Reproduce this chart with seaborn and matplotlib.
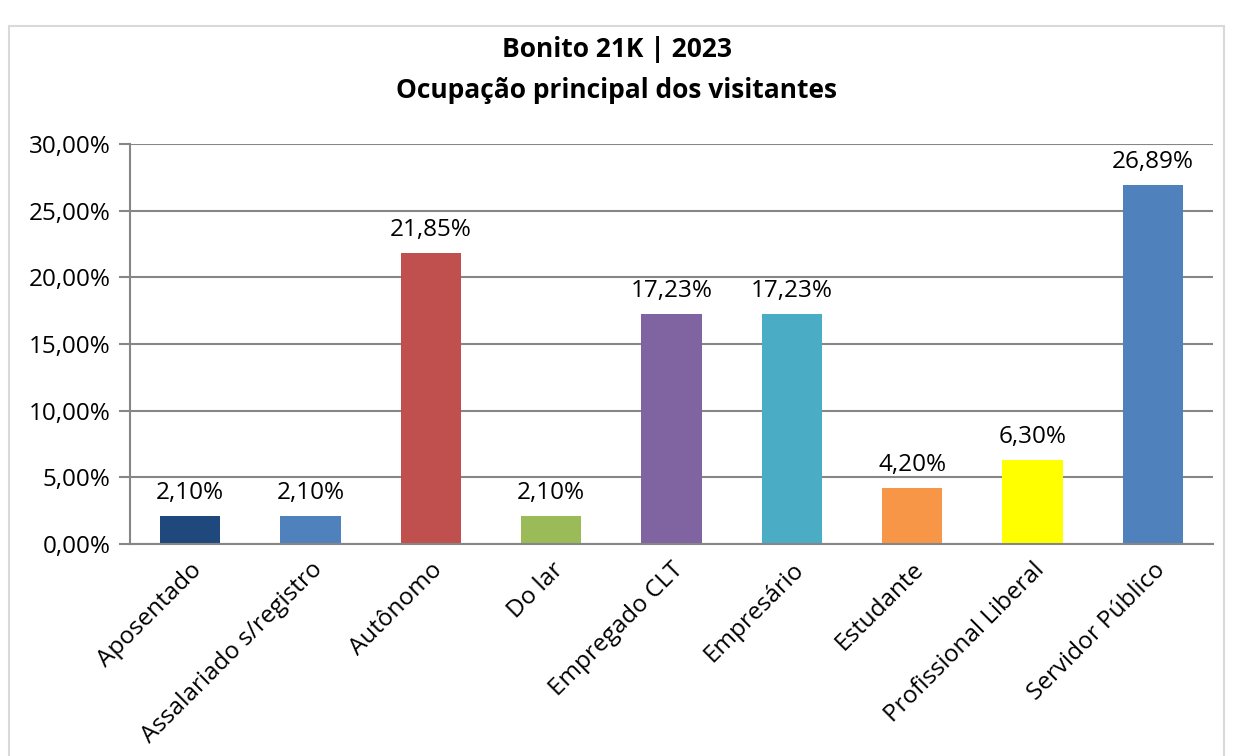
import matplotlib
matplotlib.use("Agg")
import matplotlib.pyplot as plt
import seaborn as sns
import pandas as pd
from matplotlib.patches import Rectangle
from matplotlib.ticker import FuncFormatter, MultipleLocator

# Data
categorias = ["Aposentado", "Assalariado s/registro", "Autônomo", "Do lar",
              "Empregado CLT", "Empresário", "Estudante",
              "Profissional Liberal", "Servidor Público"]
percentuais = [2.10, 2.10, 21.85, 2.10, 17.23, 17.23, 4.20, 6.30, 26.89]
cores = ["#1F497D", "#4F81BD", "#C0504D", "#9BBB59", "#8064A2",
         "#4BACC6", "#F79646", "#FFFF00", "#4F81BD"]

titulo = "Bonito 21K | 2023\nOcupação principal dos visitantes"


def fmt_pct(v, pos=None):
    return f"{v:.2f}%".replace(".", ",")


def main():
    sns.set_style("white")
    plt.rcParams['font.family'] = ['Open Sans', 'DejaVu Sans']
    plt.rcParams['text.color'] = 'black'
    plt.rcParams['xtick.color'] = 'black'
    plt.rcParams['ytick.color'] = 'black'

    df = pd.DataFrame({"categoria": categorias, "valor": percentuais})

    fig = plt.figure(figsize=(12.33, 7.56), dpi=100)
    ax = fig.add_axes([0.1054, 0.2804, 0.8784, 0.5291])

    sns.barplot(data=df, x="categoria", y="valor", hue="categoria",
                palette=cores, width=0.5, legend=False, ax=ax,
                saturation=1, linewidth=0)

    # value labels
    for cont in ax.containers:
        ax.bar_label(cont, labels=[fmt_pct(b.get_height()) for b in cont],
                     padding=8, fontsize=17.5, color="black")

    ax.set_ylim(0, 30)
    ax.set_xlim(-0.5, len(categorias) - 0.5)
    ax.yaxis.set_major_locator(MultipleLocator(5))
    ax.yaxis.set_major_formatter(FuncFormatter(fmt_pct))
    ax.grid(axis="y", color="#868686", linewidth=1.5)
    ax.set_axisbelow(True)

    for side in ["top", "right"]:
        ax.spines[side].set_visible(False)
    for side in ["left", "bottom"]:
        ax.spines[side].set_color("#868686")
        ax.spines[side].set_linewidth(1.5)

    # category labels centred, ticks at boundaries
    ax.set_xticks(range(len(categorias)))
    ax.set_xticklabels(categorias, rotation=45, ha="right",
                       rotation_mode="anchor", fontsize=17.5)
    ax.tick_params(axis="x", which="major", length=0, pad=10)
    ax.set_xticks([i - 0.5 for i in range(len(categorias) + 1)], minor=True)
    ax.tick_params(axis="x", which="minor", length=8, width=1.5,
                   color="#868686", direction="out")
    ax.tick_params(axis="y", length=8, width=1.5, color="#868686",
                   labelcolor="black", labelsize=17.5, pad=6, left=True)

    ax.set_xlabel("")
    ax.set_ylabel("")

    fig.suptitle(titulo, fontsize=19, fontweight="bold", y=0.952,
                 linespacing=1.65, color="black")

    # light outer frame
    fig.patches.append(Rectangle((0.007, -0.01), 0.986, 0.975,
                                 transform=fig.transFigure, fill=False,
                                 edgecolor="#D9D9D9", linewidth=1.5))

    fig.savefig("out.png", dpi=100)


if __name__ == "__main__":
    main()
